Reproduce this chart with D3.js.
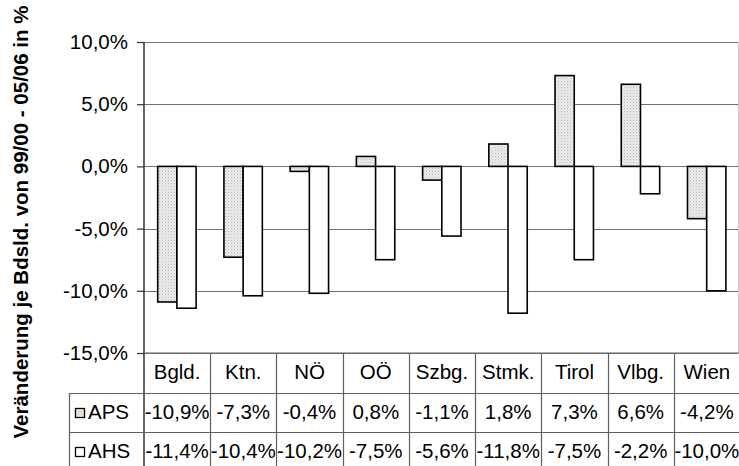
<!DOCTYPE html>
<html><head><meta charset="utf-8">
<script src="https://cdn.jsdelivr.net/npm/d3@7"></script>
<style>body{margin:0;background:#fff}svg{display:block}text{font-family:"Liberation Sans",Arial,sans-serif}</style>
</head><body>
<svg id="c" width="739" height="466"></svg>
<script>
const categories = ["Bgld.","Ktn.","NÖ","OÖ","Szbg.","Stmk.","Tirol","Vlbg.","Wien"];
const seriesNames = ["APS","AHS"];
const aps = [-10.9,-7.3,-0.4,0.8,-1.1,1.8,7.3,6.6,-4.2];
const ahs = [-11.4,-10.4,-10.2,-7.5,-5.6,-11.8,-7.5,-2.2,-10.0];
const yTicks = [10,5,0,-5,-10,-15];
const yLabel = "Veränderung je Bdsld. von 99/00 - 05/06 in %";

(function(){
const FS = 20.5;
const fmt = v => v.toFixed(1).replace(".", ",") + "%";
const svg = d3.select("#c");
const defs = svg.append("defs");
const pat = defs.append("pattern").attr("id","dots").attr("width",3).attr("height",3).attr("patternUnits","userSpaceOnUse");
pat.append("rect").attr("width",3).attr("height",3).attr("fill","#ececec");
pat.append("rect").attr("x",0).attr("y",0).attr("width",1).attr("height",1).attr("fill","#b8b8b8");
pat.append("rect").attr("x",1.5).attr("y",1.5).attr("width",1).attr("height",1).attr("fill","#cfcfcf");

const pL = 144, pR = 740, pT = 42, pB = 353;
const y = d3.scaleLinear().domain([-15,10]).range([pB, pT]);
const x = d3.scaleBand().domain(categories).range([pL, pR]);
const bw = x.bandwidth();
const x1 = d3.scaleBand().domain(seriesNames).range([bw*0.207, bw*0.787]);
const fills = {APS:"url(#dots)", AHS:"#fff"};
const data = {APS: aps, AHS: ahs};

// gridlines
svg.append("g").selectAll("line").data(yTicks).join("line")
  .attr("x1", pL).attr("x2", 738).attr("y1", d => Math.round(y(d))+0.5).attr("y2", d => Math.round(y(d))+0.5)
  .attr("stroke","#707070").attr("stroke-width",1.2);
svg.append("line").attr("x1",738.5).attr("x2",738.5).attr("y1",pT).attr("y2",pB).attr("stroke","#c8c8c8");

// axis
const axis = svg.append("g").attr("transform",`translate(${pL},0)`)
  .call(d3.axisLeft(y).tickValues(yTicks).tickFormat(fmt).tickSize(7).tickPadding(9));
axis.select(".domain").remove();
axis.selectAll(".tick line").attr("stroke","#333").attr("stroke-width",1.2);
axis.selectAll(".tick text").attr("font-size",FS).attr("fill","#000").style("font-family","Liberation Sans, Arial, sans-serif");
svg.append("line").attr("x1",pL).attr("x2",pL).attr("y1",pT).attr("y2",466).attr("stroke","#333").attr("stroke-width",1.5);

// bars
seriesNames.forEach(s => {
  svg.append("g").selectAll("rect").data(categories).join("rect")
    .attr("x", c => x(c) + x1(s))
    .attr("width", x1.bandwidth())
    .attr("y", (c,i) => y(Math.max(0, data[s][i])))
    .attr("height", (c,i) => Math.abs(y(data[s][i]) - y(0)))
    .attr("fill", fills[s]).attr("stroke","#000").attr("stroke-width",1.6);
});

// table
const rowY = [353, 393, 432, 472];
const legLeft = 69;
const tg = svg.append("g").attr("stroke","#606060").attr("stroke-width",1.2);
tg.append("line").attr("x1",pL).attr("x2",pR).attr("y1",rowY[0]).attr("y2",rowY[0]);
tg.append("line").attr("x1",legLeft).attr("x2",pR).attr("y1",rowY[1]+0.5).attr("y2",rowY[1]+0.5);
tg.append("line").attr("x1",legLeft).attr("x2",pR).attr("y1",rowY[2]+0.5).attr("y2",rowY[2]+0.5);
tg.append("line").attr("x1",legLeft+0.5).attr("x2",legLeft+0.5).attr("y1",rowY[1]).attr("y2",466);
categories.forEach((c,i) => {
  if (i>0) tg.append("line").attr("x1",Math.round(x(c))+0.5).attr("x2",Math.round(x(c))+0.5).attr("y1",rowY[0]).attr("y2",466);
});
svg.append("g").selectAll("text").data(categories).join("text")
  .attr("x", c => x(c)+bw/2).attr("y", rowY[0]+25.5).attr("text-anchor","middle").attr("font-size",FS).text(c => c);
seriesNames.forEach((s, r) => {
  const by = rowY[r+1];
  svg.append("rect").attr("x",75.5).attr("y",by+15.5).attr("width",9).attr("height",9)
    .attr("fill",fills[s]).attr("stroke","#000").attr("stroke-width",1.3);
  svg.append("text").attr("x",88).attr("y",by+25.5).attr("font-size",FS).text(s);
  svg.append("g").selectAll("text").data(categories).join("text")
    .attr("x", c => x(c)+bw/2).attr("y", by+25.5).attr("text-anchor","middle").attr("font-size",FS)
    .text((c,i) => fmt(data[s][i]));
});

// y label
svg.append("text").attr("transform","translate(28,222) rotate(-90)").attr("text-anchor","middle")
  .attr("font-size",FS).attr("font-weight","bold").text(yLabel);
})();
</script>
</body></html>
